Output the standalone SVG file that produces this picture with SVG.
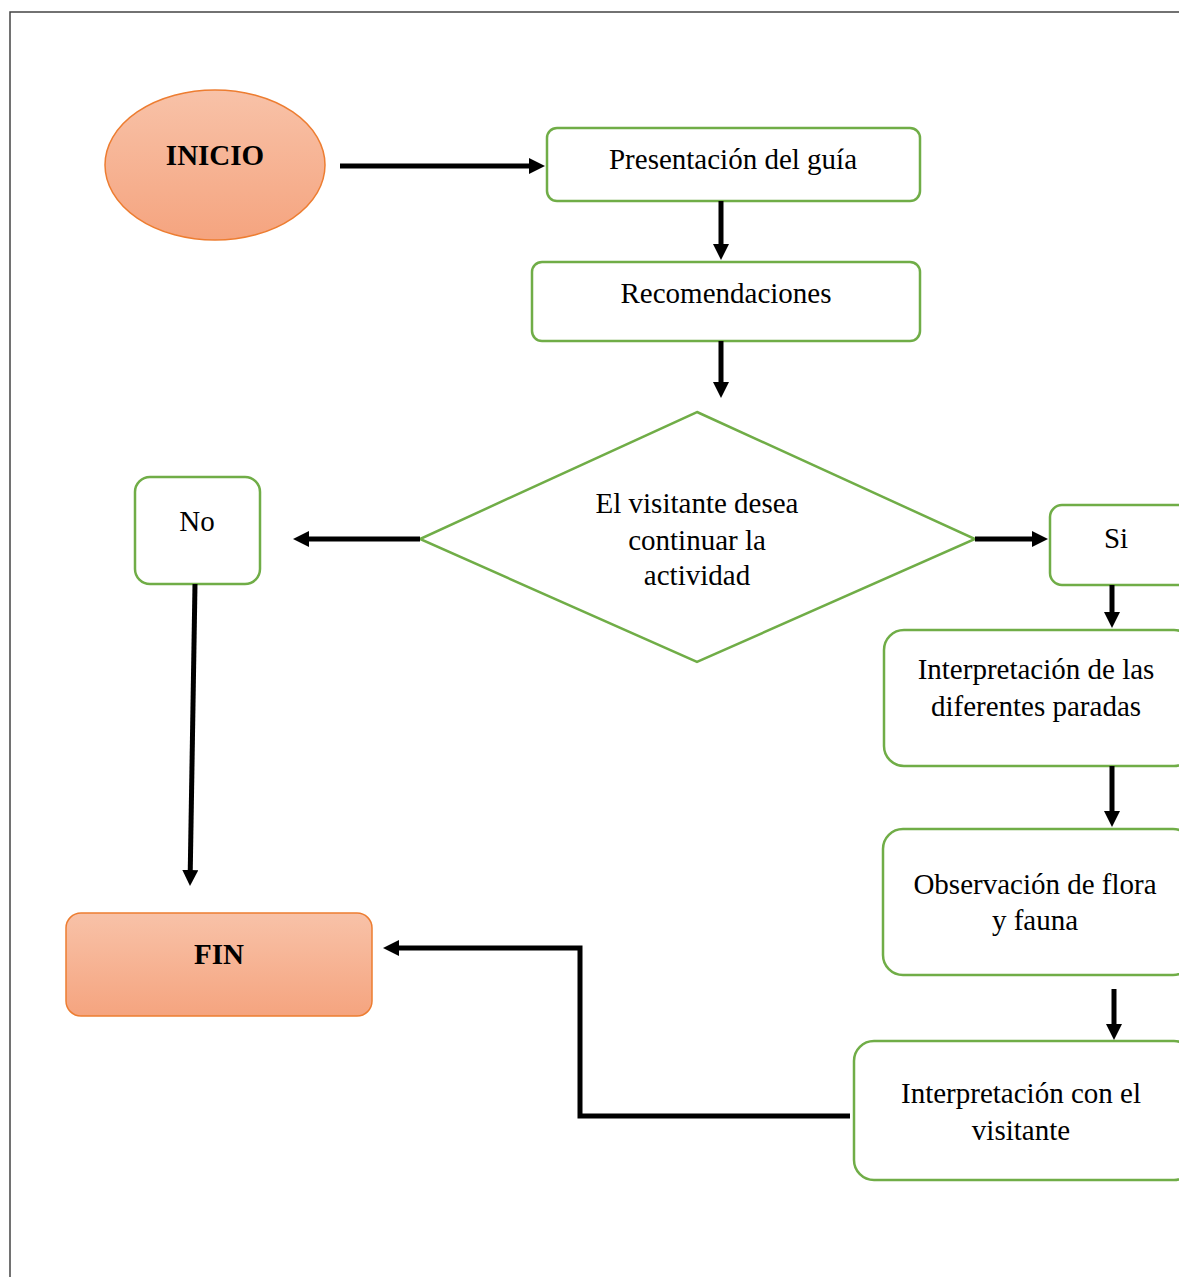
<svg xmlns="http://www.w3.org/2000/svg" width="1179" height="1277" viewBox="0 0 1179 1277">
<style>
.txt{font-family:"Liberation Serif","Times New Roman",serif;font-size:29px;fill:#000;text-anchor:middle}
.b{font-weight:bold}
.g{fill:#fff;stroke:#70ad47;stroke-width:2.5}
.o{fill:url(#og);stroke:#ed7d31;stroke-width:1.5}
.c{fill:none;stroke:#000;stroke-width:5;stroke-linejoin:miter}
</style>
<defs>
<linearGradient id="og" x1="0" y1="0" x2="0" y2="1">
<stop offset="0" stop-color="#f8c2a8"/>
<stop offset="1" stop-color="#f5a47f"/>
</linearGradient>
<marker id="ah" viewBox="0 0 16 16" markerWidth="16" markerHeight="16" refX="4" refY="8" markerUnits="userSpaceOnUse" orient="auto">
<path d="M0,0 L16,8 L0,16 z" fill="#000"/>
</marker>
</defs>
<rect width="1179" height="1277" fill="#fff"/>
<path d="M10,1277 V12 H1179" fill="none" stroke="#444" stroke-width="1.5"/>

<g id="inicio">
<ellipse cx="215" cy="165" rx="110" ry="75" class="o"/>
<text x="215" y="165" class="txt b">INICIO</text>
</g>
<g id="presentacion">
<rect x="547" y="128" width="373" height="73" rx="10" class="g"/>
<text x="733" y="169" class="txt">Presentación del guía</text>
</g>
<g id="recomendaciones">
<rect x="532" y="262" width="388" height="79" rx="10" class="g"/>
<text x="726" y="303" class="txt">Recomendaciones</text>
</g>
<g id="decision">
<polygon points="697,412 975,539 697,662 420,539" class="g"/>
<text x="697" y="513" class="txt">El visitante desea</text>
<text x="697" y="550" class="txt">continuar la</text>
<text x="697" y="585" class="txt">actividad</text>
</g>
<g id="no">
<rect x="135" y="477" width="125" height="107" rx="15" class="g"/>
<text x="197" y="531" class="txt">No</text>
</g>
<g id="fin">
<rect x="66" y="913" width="306" height="103" rx="15" class="o"/>
<text x="219" y="964" class="txt b">FIN</text>
</g>
<g id="si">
<rect x="1050" y="505" width="140" height="80" rx="12" class="g"/>
<text x="1116" y="548" class="txt">Si</text>
</g>
<g id="interpretacion-paradas">
<rect x="884" y="630" width="310" height="136" rx="20" class="g"/>
<text x="1036" y="679" class="txt">Interpretación de las</text>
<text x="1036" y="716" class="txt">diferentes paradas</text>
</g>
<g id="observacion">
<rect x="883" y="829" width="310" height="146" rx="20" class="g"/>
<text x="1035" y="894" class="txt">Observación de flora</text>
<text x="1035" y="930" class="txt">y fauna</text>
</g>
<g id="interpretacion-visitante">
<rect x="854" y="1041" width="340" height="139" rx="20" class="g"/>
<text x="1021" y="1103" class="txt">Interpretación con el</text>
<text x="1021" y="1140" class="txt">visitante</text>
</g>

<g id="connectors">
<path d="M340,166 H533" class="c" marker-end="url(#ah)"/>
<path d="M721,201 V248" class="c" marker-end="url(#ah)"/>
<path d="M721,341 V386" class="c" marker-end="url(#ah)"/>
<path d="M420,539 H305" class="c" marker-end="url(#ah)"/>
<path d="M195,584 L190.2,874" class="c" marker-end="url(#ah)"/>
<path d="M975,539 H1036" class="c" marker-end="url(#ah)"/>
<path d="M1112,585 V616" class="c" marker-end="url(#ah)"/>
<path d="M1112,766 V815" class="c" marker-end="url(#ah)"/>
<path d="M1114,989 V1028" class="c" marker-end="url(#ah)"/>
<path d="M850,1116 H580 V948 H395" class="c" marker-end="url(#ah)"/>
</g>
</svg>
